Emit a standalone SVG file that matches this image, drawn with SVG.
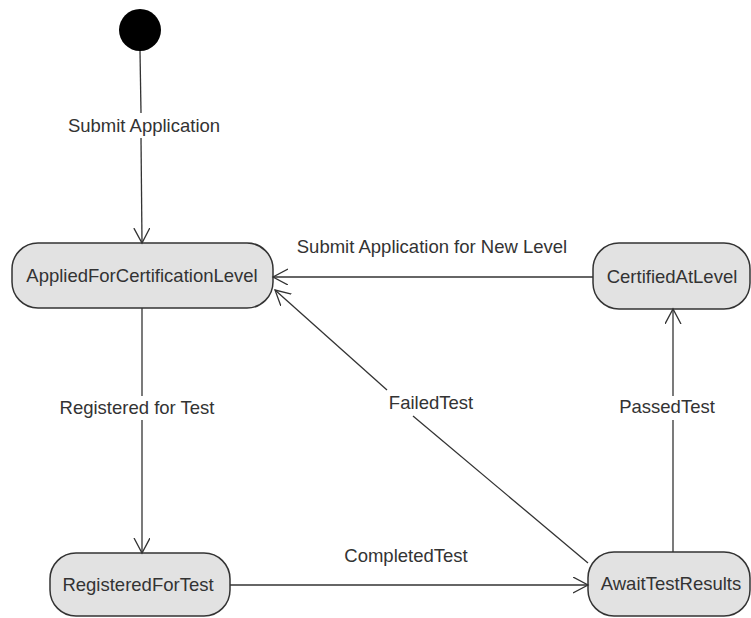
<svg xmlns="http://www.w3.org/2000/svg" width="751" height="618" viewBox="0 0 751 618">
<style>
.st rect{fill:#e2e2e2;stroke:#333;stroke-width:1.5}
text{font-family:"Liberation Sans",Arial,sans-serif;font-size:18.5px;fill:#333;text-anchor:middle}
.ln{stroke:#333;stroke-width:1.3;fill:none}
</style>
<defs>
<marker id="arr" markerUnits="userSpaceOnUse" markerWidth="20" markerHeight="20" refX="15" refY="8" orient="auto">
<path d="M0,0 L15,8 L0,16" fill="none" stroke="#333" stroke-width="1.3"/>
</marker>
</defs>
<rect width="751" height="618" fill="#fff"/>
<g id="initial"><circle cx="140" cy="30" r="21" fill="#000"/></g>
<g id="applied" class="st"><rect x="12" y="243" width="261" height="65" rx="26"/><text x="142" y="282">AppliedForCertificationLevel</text></g>
<g id="certified" class="st"><rect x="593" y="243" width="157" height="66" rx="26"/><text x="672" y="283">CertifiedAtLevel</text></g>
<g id="registered" class="st"><rect x="50" y="553" width="180" height="63" rx="26"/><text x="138" y="591">RegisteredForTest</text></g>
<g id="await" class="st"><rect x="588" y="552" width="162" height="64" rx="26"/><text x="671" y="590">AwaitTestResults</text></g>
<g id="connectors">
<line class="ln" x1="140" y1="51" x2="141" y2="113"/>
<line class="ln" x1="141" y1="138" x2="142" y2="243" marker-end="url(#arr)"/>
<text x="144" y="132">Submit Application</text>
<line class="ln" x1="593" y1="277" x2="273" y2="277" marker-end="url(#arr)"/>
<text x="432" y="253">Submit Application for New Level</text>
<line class="ln" x1="142" y1="308" x2="142" y2="396"/>
<line class="ln" x1="142" y1="420" x2="142" y2="553" marker-end="url(#arr)"/>
<text x="137" y="414">Registered for Test</text>
<line class="ln" x1="230" y1="585" x2="588" y2="585" marker-end="url(#arr)"/>
<text x="406" y="562">CompletedTest</text>
<line class="ln" x1="673" y1="552" x2="673" y2="420"/>
<line class="ln" x1="673" y1="396" x2="673" y2="309" marker-end="url(#arr)"/>
<text x="667" y="413">PassedTest</text>
<line class="ln" x1="588" y1="563" x2="413" y2="416"/>
<line class="ln" x1="387" y1="390" x2="275" y2="290" marker-end="url(#arr)"/>
<text x="431" y="409">FailedTest</text>
</g>
</svg>
